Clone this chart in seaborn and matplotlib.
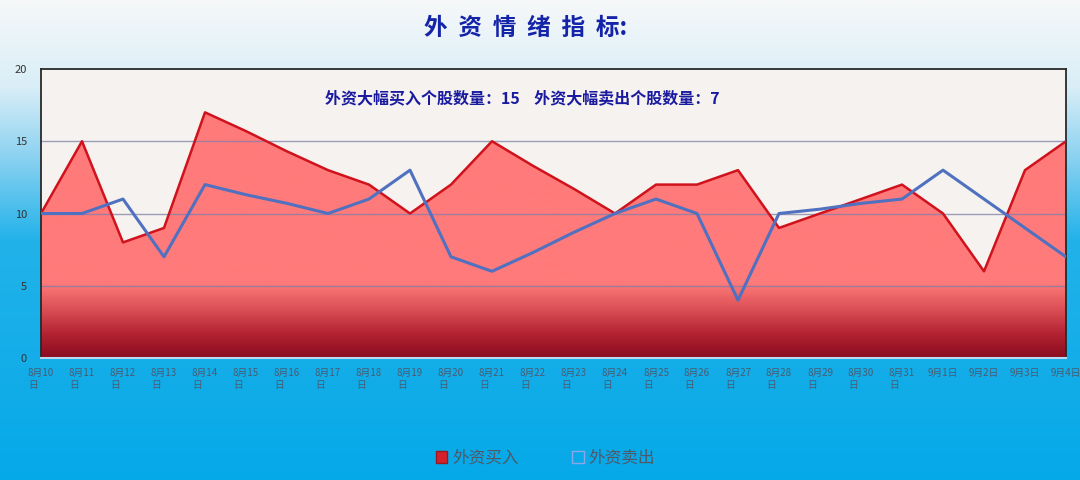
import numpy as np
import pandas as pd
import matplotlib
matplotlib.use('Agg')
import matplotlib.pyplot as plt
import seaborn as sns
from matplotlib.colors import LinearSegmentedColormap
from matplotlib.patches import Patch

# data
dates = ['8月10\n日', '8月11\n日', '8月12\n日', '8月13\n日', '8月14\n日', '8月15\n日',
         '8月16\n日', '8月17\n日', '8月18\n日', '8月19\n日', '8月20\n日', '8月21\n日',
         '8月22\n日', '8月23\n日', '8月24\n日', '8月25\n日', '8月26\n日', '8月27\n日',
         '8月28\n日', '8月29\n日', '8月30\n日', '8月31\n日', '9月1日', '9月2日', '9月3日', '9月4日']
buy = [10, 15, 8, 9, 17, 15.7, 14.3, 13, 12, 10, 12, 15, 13.3, 11.7, 10, 12, 12, 13,
       9, 10, 11, 12, 10, 6, 13, 15]
sell = [10, 10, 11, 7, 12, 11.3, 10.7, 10, 11, 13, 7, 6, 7.3, 8.7, 10, 11, 10, 4,
        10, 10.3, 10.7, 11, 13, 11, 9, 7]
buy_total = 15
sell_total = 7

df = pd.DataFrame({'idx': range(len(dates)), 'buy': buy, 'sell': sell})

sns.set_theme(style='white')
plt.rcParams['font.family'] = ['Noto Sans CJK SC', 'DejaVu Sans']
plt.rcParams['axes.unicode_minus'] = False

fig = plt.figure(figsize=(10.8, 4.8), dpi=100)

# background gradient of the whole figure
bg = fig.add_axes([0, 0, 1, 1], zorder=-10)
bg_cmap = LinearSegmentedColormap.from_list(
    'bg', [(0, '#F6F8F9'), (0.18, '#D9EEF7'), (0.32, '#8FD3F1'), (0.5, '#22B2EA'), (1, '#06A9E8')])
bg.imshow(np.linspace(0, 1, 256).reshape(-1, 1), aspect='auto', cmap=bg_cmap,
          extent=[0, 1, 0, 1], origin='upper')
bg.axis('off')

ax = fig.add_axes([41 / 1080, 1 - 358 / 480, (1066 - 41) / 1080, (358 - 69) / 480])
ax.set_facecolor('#F5F2EF')

# red area with vertical gradient, clipped to the fill polygon
poly = ax.fill_between(df['idx'], df['buy'], 0, color='none', lw=0)
fill_cmap = LinearSegmentedColormap.from_list(
    'fill', [(0, '#8A0C20'), (0.08, '#B22232'), (0.18, '#E0555A'), (0.26, '#FF7A7A'), (1, '#FF7A7A')])
grad = ax.imshow(np.linspace(0, 1, 256).reshape(-1, 1), aspect='auto', cmap=fill_cmap,
                 extent=[0, len(dates) - 1, 0, 20], origin='lower', zorder=1)
grad.set_clip_path(poly.get_paths()[0], transform=ax.transData)

for v in [5, 10, 15]:
    ax.axhline(v, color='#7F7FA8', lw=1, alpha=0.75, zorder=2)

sns.lineplot(data=df, x='idx', y='buy', ax=ax, color='#D0121C', lw=1.8, zorder=3)
sns.lineplot(data=df, x='idx', y='sell', ax=ax, color='#5070C0', lw=2.2, zorder=4)

ax.set_xlim(0, len(dates) - 1)
ax.set_ylim(0, 20)
ax.set_yticks([0, 5, 10, 15, 20])
ax.set_yticklabels(['0', '5', '10', '15', '20'], fontsize=8, color='#333333')
ax.set_xticks(range(len(dates)))
ax.set_xticklabels(dates, fontsize=7, color='#4A5A70', multialignment='left', linespacing=1.3)
ax.tick_params(axis='x', length=3, color='#DDEEFF', direction='in', pad=7)
ax.tick_params(axis='y', length=0, pad=10)
ax.set_xlabel('')
ax.set_ylabel('')
for s in ['left', 'top', 'right']:
    ax.spines[s].set_color('#2A2A2A')
    ax.spines[s].set_linewidth(1.3)
ax.spines['bottom'].set_color('#BBD7EE')
ax.spines['bottom'].set_linewidth(1.5)

ax.text(0.47, 0.9, f'外资大幅买入个股数量：{buy_total}    外资大幅卖出个股数量：{sell_total}',
        transform=ax.transAxes, ha='center', va='center', fontsize=11.5,
        fontweight='bold', color='#1A1AA0', zorder=5)

# title with wide letter spacing
fig.text(0.487, 0.942, '外  资  情  绪  指  标:', ha='center', va='center', fontsize=17,
         fontweight='bold', color='#1424A8')

handles = [Patch(facecolor='#D4212B', edgecolor='#9A1A20', label='外资买入'),
           Patch(facecolor='none', edgecolor='#8AA8E8', label='外资卖出')]
fig.legend(handles=handles, loc='center', bbox_to_anchor=(0.505, 0.045), ncol=2,
           frameon=False, fontsize=12, labelcolor='#505868', handlelength=0.7,
           handleheight=0.7, handletextpad=0.3, columnspacing=3.2)

fig.savefig('out.png', dpi=100)
